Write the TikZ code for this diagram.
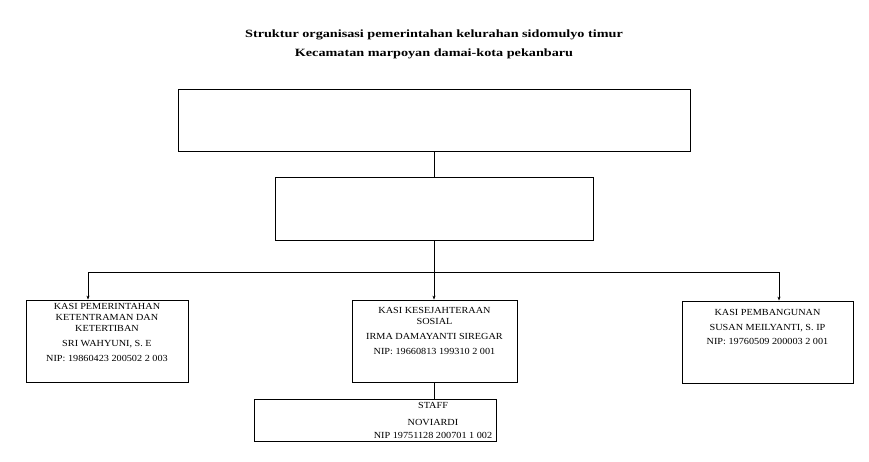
\documentclass[tikz,border=0pt]{standalone}
\usepackage{fontspec}
\setmainfont{Liberation Serif}
\newfontfamily\titlefont[FakeStretch=1.28]{Liberation Serif}
\newfontfamily\boxfont[FakeStretch=1.1]{Liberation Serif}
\usetikzlibrary{arrows.meta}
\begin{document}
\begin{tikzpicture}[x=1pt,y=-1pt,
  box/.style={draw, line width=0.8pt, rectangle, inner sep=0pt},
  boxtext/.style={align=center, inner sep=0pt, anchor=north,
    font=\boxfont\fontsize{9.3}{11}\selectfont},
  titletext/.style={inner sep=0pt, font=\titlefont\bfseries\fontsize{11.1}{13}\selectfont},
  conn/.style={line width=0.8pt},
  arr/.style={line width=0.8pt, -{Stealth[length=4pt,width=3pt]}}]
\useasboundingbox (0,0) rectangle (869,461);
% titles
\node[titletext] (t1) at (434,35) {Struktur organisasi pemerintahan kelurahan sidomulyo timur};
\node[titletext] (t2) at (434,54) {Kecamatan marpoyan damai-kota pekanbaru};
% boxes
\node[box, minimum width=512, minimum height=62] (top) at (434,120) {};
\node[box, minimum width=318, minimum height=63] (sec) at (434,208.5) {};
\node[box, minimum width=162, minimum height=82] (left) at (107,341) {};
\node[box, minimum width=165, minimum height=82] (mid) at (434.5,341) {};
\node[box, minimum width=171, minimum height=82] (right) at (767.5,342) {};
\node[box, minimum width=242, minimum height=42] (staff) at (375,420) {};
% box texts
\node[boxtext] (leftT) at (107,303.5) {KASI PEMERINTAHAN\\KETENTRAMAN DAN\\KETERTIBAN\\[3.5pt]SRI WAHYUNI, S. E\\[4.5pt]NIP: 19860423 200502 2 003};
\node[boxtext] (midT) at (434.5,307) {KASI KESEJAHTERAAN\\SOSIAL\\[4.5pt]IRMA DAMAYANTI SIREGAR\\[4pt]NIP: 19660813 199310 2 001};
\node[boxtext] (rightT) at (767.5,309.5) {KASI PEMBANGUNAN\\[4pt]SUSAN MEILYANTI, S. IP\\[3pt]NIP: 19760509 200003 2 001};
\node[boxtext] (staffT) at (433,402.5) {STAFF\\[6pt]NOVIARDI\\[2pt]NIP 19751128 200701 1 002};
% connectors
\coordinate (junc) at (434,272);
\coordinate (hl) at (88,272);
\coordinate (hr) at (779,272);
\draw[conn] (top.south) -- (sec.north);
\draw[conn] (sec.south) -- (junc);
\draw[conn] (hl) -- (hr);
\draw[arr] (hl) -- (hl |- left.north);
\draw[arr] (junc) -- (junc |- mid.north);
\draw[arr] (hr) -- (hr |- right.north);
\draw[conn] (mid.south -| junc) -- (junc |- staff.north);
\end{tikzpicture}
\end{document}
